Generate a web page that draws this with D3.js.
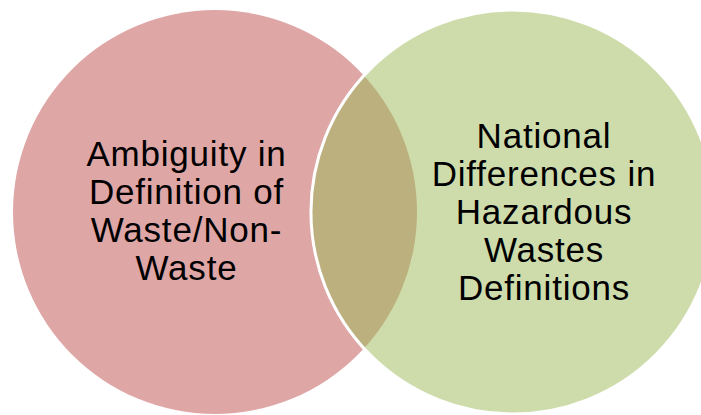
<!DOCTYPE html>
<html>
<head>
<meta charset="utf-8">
<script src="https://cdn.jsdelivr.net/npm/d3@7"></script>
<style>
  html, body { margin: 0; padding: 0; background: #fff; }
  svg { display: block; }
</style>
</head>
<body>
<div class="chart"></div>
<script>
// the two sets of the diagram and their text lines
var setNames = ["Ambiguity", "National"];
var setLines = [
  ["Ambiguity in", "Definition of", "Waste/Non-", "Waste"],
  ["National", "Differences in", "Hazardous", "Wastes", "Definitions"]
];
var setColors = ["#dfa6a6", "#cedcac"];
var overlapColor = "#bbb07e";

var svgWidth = 701;
var svgHeight = 415;

var svg = d3.select(".chart")
  .append("svg")
  .attr("width", svgWidth)
  .attr("height", svgHeight);

// unit layout: circles of radius 1, centres 1.475 apart
var xScale = d3.scaleLinear().domain([-1, 1]).range([13, 417]);
var yScale = d3.scaleLinear().domain([-1, 1]).range([10, 414]);
var r = xScale(1) - xScale(0);
var centres = [0, 1.475];

// clip used for the overlap
svg.append("defs").append("clipPath")
  .attr("id", "leftClip")
  .append("circle")
  .attr("cx", xScale(centres[0]))
  .attr("cy", yScale(0))
  .attr("r", r);

// left circle
svg.append("circle")
  .attr("cx", xScale(centres[0]))
  .attr("cy", yScale(0))
  .attr("r", r)
  .attr("fill", setColors[0]);

// right circle
svg.append("circle")
  .attr("cx", xScale(centres[1]))
  .attr("cy", yScale(0))
  .attr("r", r)
  .attr("fill", setColors[1]);

// overlap
svg.append("circle")
  .attr("clip-path", "url(#leftClip)")
  .attr("cx", xScale(centres[1]))
  .attr("cy", yScale(0))
  .attr("r", r)
  .attr("fill", overlapColor);

// white outline of the right circle
svg.append("circle")
  .attr("cx", xScale(centres[1]))
  .attr("cy", yScale(0))
  .attr("r", r)
  .attr("fill", "none")
  .attr("stroke", "#fff")
  .attr("stroke-width", 3);

// labels
var labelX = [186.5, 544];
var lineH = 38;
setLines.forEach(function(lines, i) {
  var firstBase = (i == 0) ? 166 : 147.5;
  var t = svg.append("text")
    .attr("text-anchor", "middle")
    .attr("font-family", "'Liberation Sans', Arial, sans-serif")
    .attr("font-size", 35)
    .attr("letter-spacing", "0.8px")
    .attr("fill", "#000");
  t.selectAll("tspan")
    .data(lines)
    .enter()
    .append("tspan")
    .attr("x", labelX[i])
    .attr("y", (d, j) => firstBase + j * lineH)
    .text(d => d);
});
</script>
</body>
</html>
